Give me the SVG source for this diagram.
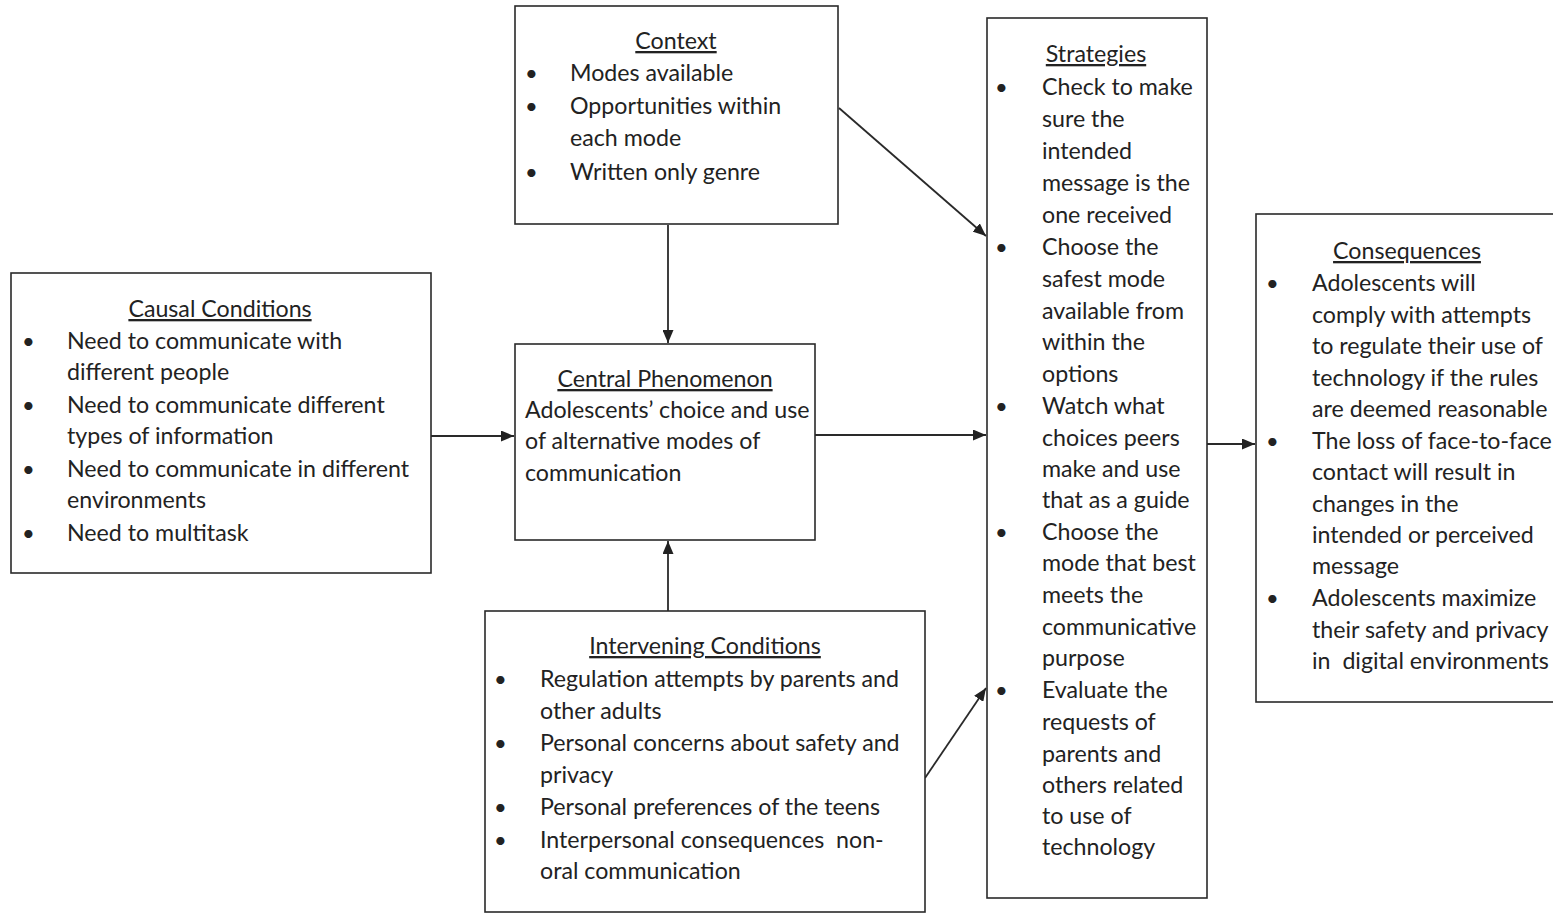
<svg xmlns="http://www.w3.org/2000/svg" width="1553" height="914" viewBox="0 0 1553 914">
<defs>
<marker id="ah" viewBox="0 0 10 10" refX="10" refY="5" markerWidth="13" markerHeight="11" orient="auto" markerUnits="userSpaceOnUse" preserveAspectRatio="none">
<path d="M0,0 L10,5 L0,10 z" fill="#222"/>
</marker>
<style>
.box{fill:#fff;stroke:#2a2a2a;stroke-width:1.6}
text{font-family:Lato,"Open Sans","Liberation Sans",sans-serif;font-size:23.2px;fill:#222}
.t{text-decoration:underline;text-anchor:middle}
.b{font-size:22px}
.c line{stroke:#2a2a2a;stroke-width:1.8;marker-end:url(#ah)}
</style>
</defs>
<rect width="1553" height="914" fill="#fff"/>
<g class="c" id="connectors">
<line x1="668" y1="225" x2="668" y2="343"/>
<line x1="668" y1="611" x2="668" y2="541"/>
<line x1="431" y1="436" x2="514" y2="436"/>
<line x1="815" y1="435" x2="986" y2="435"/>
<line x1="839" y1="108" x2="986" y2="236"/>
<line x1="925" y1="778" x2="986" y2="688"/>
<line x1="1207" y1="444" x2="1255" y2="444"/>
</g>
<g id="context">
<rect class="box" x="515" y="6" width="323" height="218"/>
<text class="t" x="676" y="49">Context</text>
<text class="b" x="525" y="81">•</text><text x="570" y="81">Modes available</text>
<text class="b" x="525" y="114">•</text><text x="570" y="114">Opportunities within</text>
<text x="570" y="146">each mode</text>
<text class="b" x="525" y="180">•</text><text x="570" y="180">Written only genre</text>
</g>
<g id="causal">
<rect class="box" x="11" y="273" width="420" height="300"/>
<text class="t" x="220" y="317">Causal Conditions</text>
<text class="b" x="22" y="349">•</text><text x="67" y="349">Need to communicate with</text>
<text x="67" y="380">different people</text>
<text class="b" x="22" y="413">•</text><text x="67" y="413">Need to communicate different</text>
<text x="67" y="444">types of information</text>
<text class="b" x="22" y="477">•</text><text x="67" y="477">Need to communicate in different</text>
<text x="67" y="508">environments</text>
<text class="b" x="22" y="541">•</text><text x="67" y="541">Need to multitask</text>
</g>
<g id="central">
<rect class="box" x="515" y="344" width="300" height="196"/>
<text class="t" x="665" y="387">Central Phenomenon</text>
<text x="525" y="418">Adolescents’ choice and use</text>
<text x="525" y="449">of alternative modes of</text>
<text x="525" y="481">communication</text>
</g>
<g id="strategies">
<rect class="box" x="987" y="18" width="220" height="880"/>
<text class="t" x="1096" y="62">Strategies</text>
<text class="b" x="995" y="95">•</text><text x="1042" y="95">Check to make</text>
<text x="1042" y="127">sure the</text>
<text x="1042" y="159">intended</text>
<text x="1042" y="191">message is the</text>
<text x="1042" y="223">one received</text>
<text class="b" x="995" y="255">•</text><text x="1042" y="255">Choose the</text>
<text x="1042" y="287">safest mode</text>
<text x="1042" y="319">available from</text>
<text x="1042" y="350">within the</text>
<text x="1042" y="382">options</text>
<text class="b" x="995" y="414">•</text><text x="1042" y="414">Watch what</text>
<text x="1042" y="446">choices peers</text>
<text x="1042" y="477">make and use</text>
<text x="1042" y="508">that as a guide</text>
<text class="b" x="995" y="540">•</text><text x="1042" y="540">Choose the</text>
<text x="1042" y="571">mode that best</text>
<text x="1042" y="603">meets the</text>
<text x="1042" y="635">communicative</text>
<text x="1042" y="666">purpose</text>
<text class="b" x="995" y="698">•</text><text x="1042" y="698">Evaluate the</text>
<text x="1042" y="730">requests of</text>
<text x="1042" y="762">parents and</text>
<text x="1042" y="793">others related</text>
<text x="1042" y="824">to use of</text>
<text x="1042" y="855">technology</text>
</g>
<g id="consequences">
<rect class="box" x="1256" y="214" width="300" height="488"/>
<text class="t" x="1407" y="259">Consequences</text>
<text class="b" x="1266" y="291">•</text><text x="1312" y="291">Adolescents will</text>
<text x="1312" y="323">comply with attempts</text>
<text x="1312" y="354">to regulate their use of</text>
<text x="1312" y="386">technology if the rules</text>
<text x="1312" y="417">are deemed reasonable</text>
<text class="b" x="1266" y="449">•</text><text x="1312" y="449">The loss of face-to-face</text>
<text x="1312" y="480">contact will result in</text>
<text x="1312" y="512">changes in the</text>
<text x="1312" y="543">intended or perceived</text>
<text x="1312" y="574">message</text>
<text class="b" x="1266" y="606">•</text><text x="1312" y="606">Adolescents maximize</text>
<text x="1312" y="638">their safety and privacy</text>
<text x="1312" y="669" xml:space="preserve">in  digital environments</text>
</g>
<g id="intervening">
<rect class="box" x="485" y="611" width="440" height="301"/>
<text class="t" x="705" y="654">Intervening Conditions</text>
<text class="b" x="494" y="687">•</text><text x="540" y="687">Regulation attempts by parents and</text>
<text x="540" y="719">other adults</text>
<text class="b" x="494" y="751">•</text><text x="540" y="751">Personal concerns about safety and</text>
<text x="540" y="783">privacy</text>
<text class="b" x="494" y="815">•</text><text x="540" y="815">Personal preferences of the teens</text>
<text class="b" x="494" y="848">•</text><text x="540" y="848" xml:space="preserve">Interpersonal consequences  non-</text>
<text x="540" y="879">oral communication</text>
</g>
</svg>
